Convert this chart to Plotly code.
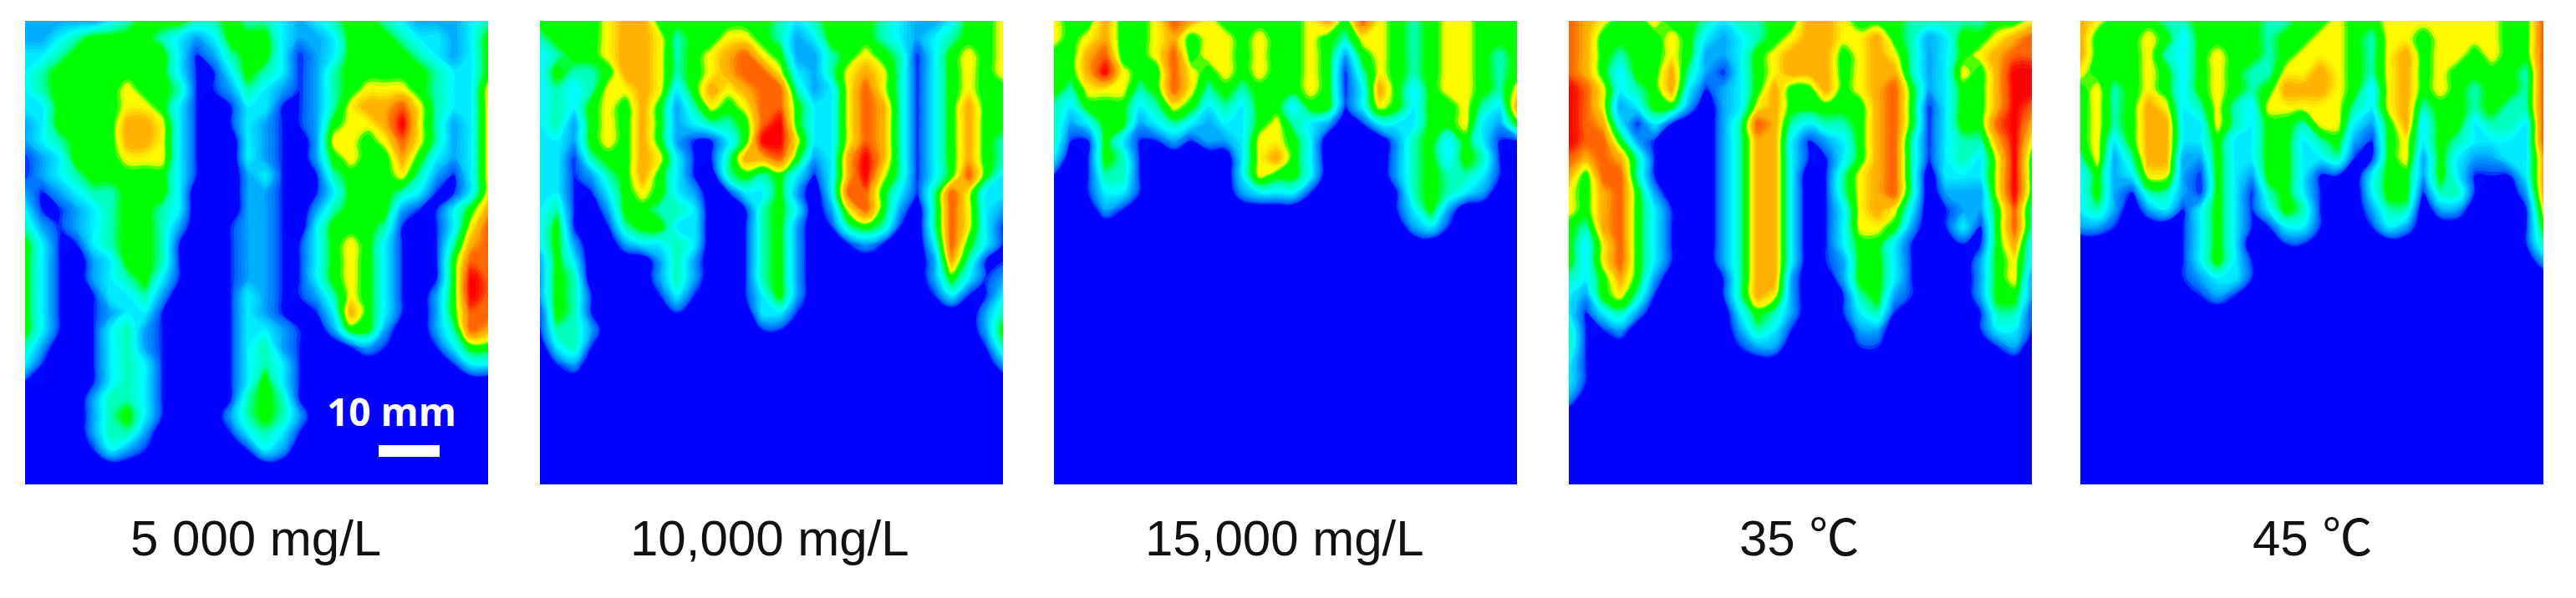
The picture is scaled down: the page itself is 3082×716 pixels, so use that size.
import plotly.graph_objects as go

W, H = 3082, 716
NX, NY = 28, 28

labels = ["5 000 mg/L", "10,000 mg/L", "15,000 mg/L", "35 ℃", "45 ℃"]
scale_label = "10 mm"

p1 = [
[2,2,2,2,2,3,4,5,5,5,4,4,5,4,4,3,2,3,4,5,5,4,3,2,2,2,3,4],
[2,2,3,4,5,5,5,5,4,3,2,3,5,5,5,3,2,2,3,5,5,5,4,3,3,2,3,5],
[3,3,4,5,5,5,5,5,5,3,1,2,4,5,5,3,1,2,3,5,5,5,5,4,3,2,3,5],
[3,4,5,5,5,5,5,5,5,3,1,1,3,5,4,3,1,2,4,5,5,5,5,5,4,3,3,5],
[3,4,5,5,5,5,6,5,5,4,1,1,2,4,3,2,1,2,4,5,6,6,6,5,4,3,3,6],
[3,3,5,5,5,5,6,6,5,3,1,0,1,3,3,1,1,2,4,6,7,7,8,6,4,3,3,6],
[2,3,5,5,5,5,7,7,6,3,1,0,1,3,2,1,1,2,5,6,6,7,9,6,4,2,3,6],
[2,3,4,5,5,5,7,7,6,3,1,0,0,3,2,1,0,2,6,6,5,6,8,6,4,2,3,6],
[1,2,3,5,5,5,6,6,6,3,1,0,0,3,2,1,0,2,5,6,5,5,7,5,3,2,3,6],
[1,2,3,4,5,5,5,5,5,3,1,0,0,2,3,1,0,1,4,5,5,5,6,4,2,1,3,6],
[2,1,2,3,4,4,5,5,5,3,0,0,0,2,2,1,0,1,3,5,5,5,4,3,1,1,3,6],
[3,1,1,2,3,4,5,5,4,3,0,0,0,2,2,1,0,2,4,5,5,5,2,1,1,3,5,7],
[4,2,1,2,3,4,5,5,4,2,0,0,1,2,2,1,0,3,5,5,5,4,1,0,1,3,6,8],
[5,3,1,1,3,4,5,5,4,1,0,0,1,2,2,1,1,3,5,6,5,3,1,0,1,4,7,8],
[5,3,1,0,2,3,5,5,4,1,0,0,1,2,2,1,1,3,5,6,5,3,1,0,1,5,8,8],
[5,3,1,0,2,3,4,5,3,1,0,0,1,2,2,1,1,3,5,6,5,3,1,0,1,5,9,8],
[5,3,1,0,1,3,3,4,2,0,0,0,1,3,2,1,1,2,4,6,5,3,1,0,2,5,9,8],
[5,3,1,0,1,2,3,3,1,0,0,0,1,3,2,1,0,1,3,7,5,3,1,0,2,5,8,8],
[5,3,1,0,1,3,4,2,1,0,0,0,1,3,3,2,1,0,2,5,5,2,0,0,2,4,8,7],
[4,2,0,0,1,3,4,2,1,0,0,0,1,3,4,2,1,0,0,1,2,1,0,0,1,3,5,5],
[3,1,0,0,1,3,4,3,1,0,0,0,1,3,4,3,1,0,0,0,0,0,0,0,0,1,3,3],
[1,1,0,0,1,3,4,3,1,0,0,0,1,3,5,3,1,0,0,0,0,0,0,0,0,0,0,0],
[0,0,0,0,2,4,4,3,1,0,0,0,1,4,5,4,1,0,0,0,0,0,0,0,0,0,0,0],
[0,0,0,0,2,4,5,3,1,0,0,0,2,4,5,4,2,0,0,0,0,0,0,0,0,0,0,0],
[0,0,0,0,2,4,4,2,0,0,0,0,1,3,4,3,1,0,0,0,0,0,0,0,0,0,0,0],
[0,0,0,0,1,3,2,1,0,0,0,0,0,1,3,2,0,0,0,0,0,0,0,0,0,0,0,0],
]

p2 = [
[5,5,5,5,6,7,7,5,5,5,5,5,5,5,4,3,4,5,5,5,4,3,2,2,3,5,5,6],
[4,5,5,5,6,7,7,6,4,5,5,6,6,5,4,2,3,5,5,5,4,3,2,3,4,5,5,6],
[3,4,5,5,6,7,7,6,4,5,6,7,8,6,5,2,2,4,5,6,5,4,1,3,5,6,5,6],
[3,5,4,4,5,7,7,6,4,5,6,7,8,8,6,3,2,4,6,7,6,4,1,3,5,6,5,6],
[3,4,3,4,6,6,7,6,3,5,7,6,7,8,8,4,2,3,6,8,6,4,1,3,5,6,5,5],
[3,4,3,5,6,5,7,5,2,4,6,5,6,8,8,5,3,3,6,8,7,4,1,3,5,7,5,5],
[3,4,2,5,6,5,7,5,2,3,4,4,5,8,9,5,3,3,6,8,7,4,1,3,5,7,5,5],
[3,3,2,5,6,5,7,5,2,1,1,3,5,9,9,6,3,3,6,8,7,4,1,3,5,7,5,4],
[3,3,1,4,5,5,7,6,3,1,1,4,7,7,8,5,2,3,7,9,7,4,1,3,5,7,5,4],
[3,3,1,2,4,5,7,5,3,1,0,4,5,4,5,3,1,3,7,9,6,4,1,3,5,8,5,3],
[3,3,1,1,3,5,6,5,3,2,0,1,3,3,5,2,0,3,8,8,5,3,1,4,8,6,3,3],
[3,4,1,0,2,5,5,4,4,3,0,0,1,4,5,3,0,2,6,8,5,2,0,4,8,6,3,2],
[3,5,1,0,1,4,5,5,3,3,0,0,1,4,5,2,0,1,4,5,4,1,0,4,8,6,3,1],
[3,5,2,0,0,2,3,3,4,3,0,0,1,4,5,2,0,0,1,2,1,0,0,3,8,5,3,1],
[2,5,3,0,0,0,0,2,4,2,0,0,1,4,5,2,0,0,0,0,0,0,0,2,7,4,1,1],
[2,5,4,0,0,0,0,2,4,2,0,0,1,4,5,2,0,0,0,0,0,0,0,2,5,3,1,2],
[2,5,4,1,0,0,0,1,3,1,0,0,1,3,5,2,0,0,0,0,0,0,0,1,3,1,1,3],
[1,5,4,1,0,0,0,0,1,0,0,0,0,3,3,1,0,0,0,0,0,0,0,0,0,0,2,4],
[1,4,4,2,0,0,0,0,0,0,0,0,0,1,1,0,0,0,0,0,0,0,0,0,0,0,2,5],
[0,3,4,1,0,0,0,0,0,0,0,0,0,0,0,0,0,0,0,0,0,0,0,0,0,0,1,4],
[0,1,2,0,0,0,0,0,0,0,0,0,0,0,0,0,0,0,0,0,0,0,0,0,0,0,0,2],
]

p3 = [
[6,5,5,7,5,5,6,8,7,6,5,5,5,5,5,6,7,5,8,6,5,4,5,6,6,5,5,5],
[6,5,6,7,5,5,6,7,5,6,6,5,6,5,5,6,5,4,6,6,5,4,5,6,6,5,5,5],
[5,5,7,8,5,5,6,8,5,6,6,5,6,5,5,6,5,2,5,6,5,4,5,6,6,5,4,5],
[5,5,7,9,6,5,5,8,6,5,6,5,6,5,5,6,5,1,4,6,5,4,5,6,6,5,4,5],
[5,4,6,6,6,4,5,8,6,4,5,4,5,5,5,6,5,1,3,7,5,3,5,6,6,5,4,6],
[4,3,5,5,5,3,4,6,5,3,4,3,5,5,3,5,5,1,3,6,5,3,5,5,6,4,3,7],
[4,2,3,5,5,2,3,4,3,2,3,3,5,6,4,3,2,0,1,3,3,3,5,5,6,3,2,5],
[4,1,1,5,3,1,1,2,1,2,2,3,6,6,5,3,0,0,0,0,2,4,5,3,5,3,1,1],
[3,0,1,5,4,1,0,0,0,0,0,3,6,7,5,3,0,0,0,0,2,4,5,3,5,4,1,0],
[1,0,1,4,4,1,0,0,0,0,0,3,6,5,5,3,0,0,0,0,2,4,5,4,4,3,1,0],
[0,0,1,3,3,1,0,0,0,0,0,2,3,3,3,1,0,0,0,0,1,4,5,4,3,2,0,0],
[0,0,0,2,1,0,0,0,0,0,0,0,0,0,0,0,0,0,0,0,1,3,5,2,0,0,0,0],
[0,0,0,0,0,0,0,0,0,0,0,0,0,0,0,0,0,0,0,0,0,2,3,1,0,0,0,0],
]

p4 = [
[8,7,6,5,5,6,5,5,4,3,4,4,5,5,7,7,6,5,5,5,4,4,4,4,4,5,5,6],
[8,7,5,5,5,5,6,5,3,2,3,4,5,6,7,7,6,6,7,5,4,2,3,5,5,6,7,8],
[8,7,5,4,5,5,6,5,2,2,3,5,6,7,7,7,5,6,7,6,4,2,3,5,6,7,8,8],
[8,7,5,3,5,5,7,4,2,1,3,5,6,7,7,7,5,6,7,7,4,2,3,6,5,7,9,9],
[9,8,6,3,4,5,7,3,1,2,3,5,7,5,5,7,5,6,7,8,5,2,3,5,5,7,9,9],
[9,8,6,2,3,5,5,2,0,2,3,6,7,5,5,5,5,5,7,8,5,1,3,5,5,7,9,8],
[9,8,7,3,1,3,1,0,0,2,4,8,7,4,3,4,4,5,7,8,5,1,3,5,5,8,9,7],
[9,8,8,5,2,1,0,0,0,2,4,7,7,3,1,2,3,5,7,8,4,1,3,4,4,7,9,6],
[8,7,8,7,4,1,0,0,0,2,4,7,7,3,1,1,3,5,7,8,4,1,3,4,3,6,9,5],
[7,5,8,8,4,1,0,0,0,2,4,7,7,3,0,1,4,6,7,8,4,0,3,3,3,6,9,5],
[6,5,7,8,5,2,0,0,0,2,4,7,7,3,0,1,4,6,7,8,4,0,2,2,2,6,9,5],
[6,5,7,8,5,3,1,0,0,2,4,7,7,3,0,1,3,6,7,6,3,0,1,2,2,5,8,4],
[5,4,7,8,5,3,1,0,0,2,4,7,7,3,0,1,3,6,6,5,2,0,1,3,1,5,8,4],
[5,3,6,8,5,3,1,0,0,2,4,7,7,3,0,1,3,5,5,3,1,0,0,1,1,5,7,3],
[5,3,6,8,5,3,1,0,0,2,4,7,7,3,0,1,2,5,5,3,1,0,0,0,2,5,6,3],
[4,3,5,7,5,2,0,0,0,1,4,7,7,2,0,0,2,5,5,3,1,0,0,0,2,5,6,2],
[3,2,5,6,4,1,0,0,0,1,4,7,6,2,0,0,1,4,5,2,1,0,0,0,2,5,5,2],
[3,1,3,4,2,0,0,0,0,0,3,5,4,2,0,0,1,3,4,1,0,0,0,0,1,4,4,1],
[4,1,1,2,0,0,0,0,0,0,2,4,3,1,0,0,0,2,2,0,0,0,0,0,1,3,3,1],
[4,1,0,0,0,0,0,0,0,0,1,2,2,0,0,0,0,1,1,0,0,0,0,0,0,1,2,0],
[3,1,0,0,0,0,0,0,0,0,0,0,0,0,0,0,0,0,0,0,0,0,0,0,0,0,0,0],
[3,1,0,0,0,0,0,0,0,0,0,0,0,0,0,0,0,0,0,0,0,0,0,0,0,0,0,0],
[2,0,0,0,0,0,0,0,0,0,0,0,0,0,0,0,0,0,0,0,0,0,0,0,0,0,0,0],
]

p5 = [
[7,6,5,5,5,4,4,5,5,5,5,4,4,5,5,6,5,5,6,6,6,6,6,6,6,5,5,8],
[7,5,5,5,6,5,3,5,5,5,5,4,5,5,6,6,5,4,6,6,5,6,6,6,6,5,5,8],
[7,5,5,5,6,4,3,5,6,5,5,4,5,6,6,6,5,4,6,7,5,6,6,5,6,5,5,8],
[6,5,5,5,6,5,3,5,6,5,4,4,6,6,7,6,5,4,6,7,5,6,5,5,5,5,4,8],
[5,6,4,5,6,5,3,5,6,5,4,5,7,7,7,6,5,3,6,7,5,6,5,4,5,5,4,8],
[5,6,4,5,7,6,3,4,6,4,3,6,6,6,6,6,4,3,6,7,4,5,5,4,5,4,4,8],
[5,6,4,5,7,7,3,3,6,4,3,5,5,4,6,6,3,2,5,7,3,5,5,3,4,4,3,8],
[5,6,3,5,7,7,3,3,5,3,3,5,5,3,4,5,2,1,5,6,3,5,4,3,3,3,3,8],
[4,6,2,4,7,7,2,2,5,3,3,5,5,3,3,4,1,1,5,6,2,5,3,2,2,3,3,7],
[3,5,2,3,6,6,2,1,5,3,2,5,5,3,1,1,0,3,5,5,2,5,3,1,1,1,3,7],
[3,5,2,1,4,4,2,1,5,3,1,4,5,3,1,0,0,3,5,5,1,4,4,1,0,0,2,7],
[3,4,2,0,2,3,1,3,5,3,1,3,5,4,1,0,0,2,4,4,0,2,2,0,0,0,1,6],
[2,2,1,0,0,0,1,3,5,3,1,1,3,3,1,0,0,1,3,2,0,0,0,0,0,0,1,5],
[0,0,0,0,0,0,1,3,5,3,0,0,1,1,0,0,0,0,0,0,0,0,0,0,0,0,1,4],
[0,0,0,0,0,0,1,3,5,3,1,0,0,0,0,0,0,0,0,0,0,0,0,0,0,0,0,2],
[0,0,0,0,0,0,1,2,3,3,1,0,0,0,0,0,0,0,0,0,0,0,0,0,0,0,0,0],
[0,0,0,0,0,0,0,1,2,1,0,0,0,0,0,0,0,0,0,0,0,0,0,0,0,0,0,0],
]

panels = [p1, p2, p3, p4, p5]
panel_left = [30, 646, 1261, 1877, 2489]
label_cx = [306, 921, 1537, 2152, 2766]
PW = 554
TOP, BOTTOM = 25, 580

cs_stops = [
    (0, "#0000ff"), (0.6, "#0000ff"), (1, "#0060ff"), (2, "#00b8ff"), (3, "#00ffff"),
    (4, "#00ffa8"), (4.6, "#00ff00"), (5.35, "#00ff00"), (5.55, "#a8ff00"), (5.75, "#ffff00"), (6.2, "#ffe800"),
    (6.7, "#ffb800"), (7.2, "#ffa800"), (7.6, "#ff7800"), (8.2, "#ff5800"), (8.6, "#ff2000"), (9, "#ff0000"),
]
colorscale = [[v / 9, c] for v, c in cs_stops]

fig = go.Figure()
layout = dict(
    width=W, height=H, autosize=False, margin=dict(l=0, r=0, t=0, b=0),
    paper_bgcolor="white", plot_bgcolor="white", showlegend=False,
)
annotations = []
for i, rows in enumerate(panels):
    z = rows + [[0] * NX for _ in range(NY - len(rows))]
    s = "" if i == 0 else str(i + 1)
    fig.add_trace(go.Contour(z=z, xaxis=f"x{s}", yaxis=f"y{s}", zmin=0, zmax=9, colorscale=colorscale,
                             contours=dict(start=0.4, end=8.8, size=0.2, coloring="fill", showlines=False),
                             line=dict(width=0, smoothing=1.3), showscale=False, hoverinfo="skip"))
    layout[f"xaxis{s}"] = dict(domain=[panel_left[i] / W, (panel_left[i] + PW) / W], range=[0, NX - 1],
                               visible=False, anchor=f"y{s}", fixedrange=True)
    layout[f"yaxis{s}"] = dict(domain=[1 - BOTTOM / H, 1 - TOP / H], range=[NY - 1, 0],
                               visible=False, anchor=f"x{s}", fixedrange=True)
    annotations.append(dict(text=labels[i], x=label_cx[i] / W, y=1 - 644 / H, xref="paper", yref="paper",
                            showarrow=False, xanchor="center", yanchor="middle",
                            font=dict(family="Liberation Sans, Noto Sans CJK SC", size=60, color="#111111")))
annotations.append(dict(text=f"<b>{scale_label}</b>", x=468 / W, y=1 - 492 / H, xref="paper", yref="paper",
                        showarrow=False, xanchor="center", yanchor="middle",
                        font=dict(family="Open Sans, Noto Sans", size=46, color="white")))
layout["annotations"] = annotations
layout["shapes"] = [dict(type="rect", xref="paper", yref="paper", x0=453 / W, x1=526 / W,
                         y0=1 - 547 / H, y1=1 - 533 / H, fillcolor="white", line=dict(width=0))]
fig.update_layout(**layout)
fig.write_html("out.html", config={"displayModeBar": False},
               post_script="document.body.style.margin='0';document.body.style.overflow='hidden';")
